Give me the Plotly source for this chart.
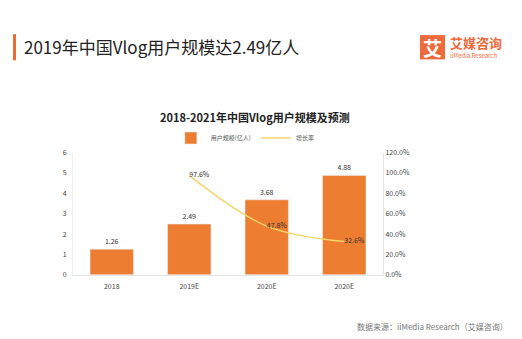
import plotly.graph_objects as go

categories = ["2018", "2019E", "2020E", "2020E"]
users = [1.26, 2.49, 3.68, 4.88]
growth = [None, 0.976, 0.478, 0.326]
growth_labels = ["", "97.6%", "47.8%", "32.6%"]

W, H = 522, 339
FONT = "Noto Sans CJK SC"
ORANGE = "#ED7D31"
YELLOW = "#F8D56B"
xpos = list(range(len(categories)))

fig = go.Figure()
fig.add_trace(go.Bar(
    x=xpos, y=users, name="用户规模(亿人)", marker_color=ORANGE, width=0.56,
    text=[f"{v:.2f}" for v in users], textposition="outside",
    textfont=dict(size=7, color="#333"), cliponaxis=False, yaxis="y"))
fig.add_trace(go.Scatter(
    x=xpos[1:], y=growth[1:], name="增长率", mode="lines+text",
    line=dict(color=YELLOW, width=1.5, shape="spline"),
    text=growth_labels[1:], textposition="middle right",
    textfont=dict(size=7, color="#333"), yaxis="y2", cliponaxis=False))

fig.update_layout(
    width=W, height=H, margin=dict(l=0, r=0, t=0, b=0),
    paper_bgcolor="white", plot_bgcolor="white",
    font=dict(family=FONT, color="#444"),
    xaxis=dict(domain=[73/W, 383/W], tickmode="array", tickvals=xpos, ticktext=categories,
               range=[-0.5, 3.5], showline=True, linecolor="#e6e6e6", ticks="",
               tickfont=dict(size=7, color="#444"), showgrid=False, zeroline=False,
               ticklabelstandoff=5),
    yaxis=dict(domain=[(H-277)/H, (H-151)/H], range=[0, 6], dtick=1, showgrid=False,
               showline=True, linecolor="#f0f0f0", zeroline=False,
               tickfont=dict(size=7, color="#444"), ticks="", ticklabelstandoff=4),
    yaxis2=dict(overlaying="y", side="right", range=[0, 1.2], dtick=0.2, tickformat=".1%",
                showgrid=False, showline=True, linecolor="#e6e6e6", zeroline=False,
                tickfont=dict(size=7, color="#444"), ticks="", anchor="x"),
    legend=dict(orientation="h", x=0.47, xanchor="center", y=(H-136)/H, yanchor="middle",
                font=dict(size=6, color="#555"), itemwidth=30, bgcolor="rgba(0,0,0,0)",
                tracegroupgap=0),
    showlegend=True,
)

fig.add_shape(type="rect", xref="paper", yref="paper", x0=13/W, x1=16/W,
              y0=(H-56)/H, y1=(H-29)/H, fillcolor="#EE6A33", line_width=0)
fig.add_annotation(text="2019年中国Vlog用户规模达2.49亿人", xref="paper", yref="paper",
                   x=22/W, y=(H-42)/H, xanchor="left", yanchor="middle", showarrow=False,
                   font=dict(size=17, color="#222", family=FONT))
# logo
fig.add_shape(type="rect", xref="paper", yref="paper", x0=420/W, x1=445/W,
              y0=(H-55)/H, y1=(H-30)/H, fillcolor="#EE6A3C", line_width=0, layer="below")
fig.add_annotation(text="<b>艾</b>", xref="paper", yref="paper", x=432.5/W, y=(H-42.5)/H,
                   xanchor="center", yanchor="middle", showarrow=False,
                   font=dict(size=19, color="white", family=FONT))
fig.add_annotation(text="<b>艾媒咨询</b>", xref="paper", yref="paper", x=448/W, y=(H-38)/H,
                   xanchor="left", yanchor="middle", showarrow=False,
                   font=dict(size=13, color="#EE6A3C", family=FONT))
fig.add_annotation(text="iiMedia Research", xref="paper", yref="paper", x=448/W, y=(H-51)/H,
                   xanchor="left", yanchor="middle", showarrow=False,
                   font=dict(size=6, color="#EE6A3C", family=FONT))
fig.add_annotation(text="<b>2018-2021年中国Vlog用户规模及预测</b>", xref="paper", yref="paper",
                   x=255/W, y=(H-114)/H, xanchor="center", yanchor="middle", showarrow=False,
                   font=dict(size=11, color="#222", family=FONT))
fig.add_annotation(text="数据来源：iiMedia Research（艾媒咨询）", xref="paper", yref="paper",
                   x=510/W, y=(H-330)/H, xanchor="right", yanchor="middle", showarrow=False,
                   font=dict(size=8, color="#777", family=FONT))

fig.write_html("out.html")
